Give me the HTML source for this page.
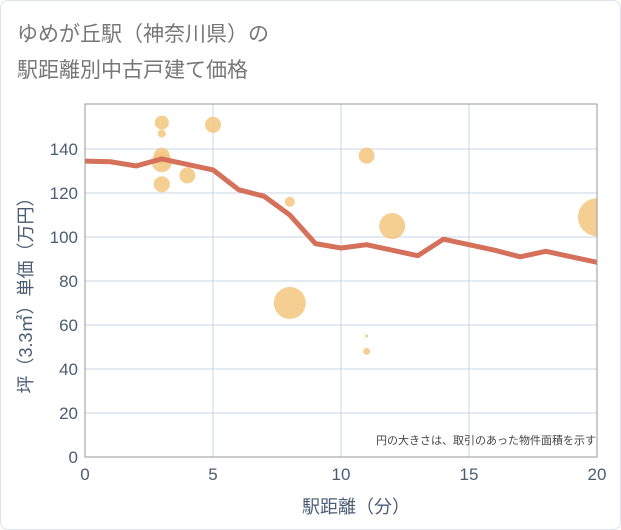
<!DOCTYPE html>
<html><head><meta charset="utf-8"><style>
body{margin:0;background:#fff;font-family:"Liberation Sans","Noto Sans CJK JP",sans-serif;}
#wrap{position:relative;width:619px;height:528px;border:1px solid #dde3ea;border-radius:8px;background:#fff;overflow:hidden}
</style></head><body>
<div id="wrap">
<svg id="chart" width="621" height="530">
<text x="16" y="40" font-size="21" fill="#777">ゆめが丘駅（神奈川県）の</text>
<text x="16" y="76" font-size="21" fill="#777">駅距離別中古戸建て価格</text>
<g id="grid"></g>
<g id="bubbles"></g>
<g id="line"></g>
<rect x="84" y="103" width="512" height="353" fill="none" stroke="#999"/>
<g id="ticks"></g>
<text x="595" y="443" font-size="11" fill="#444" text-anchor="end">円の大きさは、取引のあった物件面積を示す</text>
<text x="355" y="512" font-size="18" fill="#4a5d72" text-anchor="middle">駅距離（分）</text>
<text transform="translate(31,290) rotate(-90)" font-size="18" fill="#4a5d72" text-anchor="middle">坪（3.3㎡）単価（万円）</text>
</svg></div>
<script>
const lineX=[0,1,2,3,4,5,6,7,8,9,10,11,12,13,14,15,16,17,18,19,20];
const lineY=[134.5,134.2,132.3,135.5,133,130.5,121.5,118.5,110,97,95,96.5,94,91.5,99,96.5,94,91,93.5,91,88.5];
const bubX=[3,3,3,3,3,4,5,8,8,11,11,11,12,20];
const bubY=[152,147,137,134,124,128,151,116,70,137,55,48,105,109];
const bubR=[7,4,8,10,8,8,8,5,16,8,1.5,3.5,13,19];
const xTicks=[0,5,10,15,20];
const yTicks=[0,20,40,60,80,100,120,140];
const sx=v=>84+v*25.6, sy=v=>456-v*2.2;
const NS="http://www.w3.org/2000/svg";
function mk(t,a,p){const e=document.createElementNS(NS,t);for(const k in a)e.setAttribute(k,a[k]);p.appendChild(e);return e;}
const g=document.getElementById('grid'),tk=document.getElementById('ticks');
xTicks.forEach(v=>{const l=mk('line',{x1:sx(v),x2:sx(v),y1:103,y2:456,stroke:'#c9d6e3'},g);


const t=mk('text',{x:sx(v),y:479,'font-size':17,fill:'#4a5d72','text-anchor':'middle'},tk);t.textContent=v;

});
yTicks.forEach(v=>{const l=mk('line',{x1:84,x2:596,y1:sy(v),y2:sy(v),stroke:'#c9d6e3'},g);


const t=mk('text',{x:77,y:sy(v)+6,'font-size':17,fill:'#4a5d72','text-anchor':'end'},tk);t.textContent=v;

});
const b=document.getElementById('bubbles');
mk('clipPath',{id:'cp'},b).appendChild(Object.assign(document.createElementNS(NS,'rect'),{}));
const cr=b.querySelector('clipPath').firstChild;['x','y','width','height'].forEach((k,i)=>cr.setAttribute(k,[84,103,512,353][i]));
b.setAttribute('clip-path','url(#cp)');
bubX.forEach((v,i)=>{const c=mk('circle',{cx:sx(v),cy:sy(bubY[i]),r:bubR[i],fill:'#f3c57f','fill-opacity':0.85},b);

});
const p=mk('polyline',{points:lineX.map((v,i)=>sx(v)+','+sy(lineY[i])).join(' '),fill:'none',stroke:'#d5705a','stroke-width':5,'stroke-linejoin':'round'},document.getElementById('line'));


</script>
</body></html>
